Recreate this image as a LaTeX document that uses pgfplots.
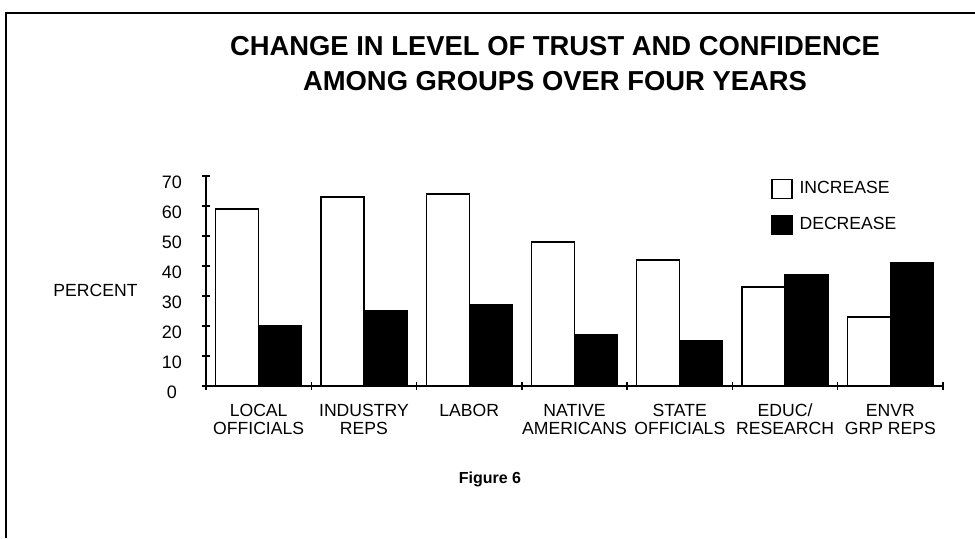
\documentclass[border=0pt]{standalone}
\usepackage{fontspec}
\setmainfont{Liberation Sans}
\usepackage{pgfplots}
\pgfplotsset{compat=1.18}
\begin{document}
\begin{tikzpicture}
\path[use as bounding box] (0,0) rectangle (487.5pt,269pt);
\draw[line width=1pt] (3pt,0) -- (3pt,262.5pt) -- (487.5pt,262.5pt);
\node[font=\fontsize{13.7}{17.5}\selectfont\bfseries, align=center] at (277.5pt,237pt) {CHANGE IN LEVEL OF TRUST AND CONFIDENCE\\AMONG GROUPS OVER FOUR YEARS};
\node[font=\fontsize{8}{9}\selectfont\bfseries] at (245pt,29.5pt) {Figure 6};
\begin{axis}[
  at={(103pt,76pt)}, anchor=south west,
  scale only axis, width=368.5pt, height=105pt,
  xmin=0, xmax=7, ymin=0, ymax=70,
  axis x line*=bottom, axis y line*=left,
  axis line style={-, line width=0.9pt},
  /pgf/number format/assume math mode=true,
  ybar=0pt, bar width=21.5pt,
  xtick={0,...,7}, xticklabels={},
  ytick={0,10,...,70},
  tick align=center, major tick length=4pt,
  tick style={black, line width=0.7pt},
  extra x ticks={0.5,1.5,...,6.5},
  extra x tick labels={{LOCAL\\OFFICIALS},{INDUSTRY\\REPS},{LABOR},{NATIVE\\AMERICANS},{STATE\\OFFICIALS},{EDUC\smash{/}\\RESEARCH},{ENVR\\GRP REPS}},
  extra x tick style={major tick length=0pt},
  xticklabel style={align=center, anchor=north, yshift=-5.5pt, font=\fontsize{8.8}{9.2}\selectfont},
  yticklabel style={anchor=center, xshift=-15pt, yshift=-3pt, font=\fontsize{9}{10}\selectfont},
  ylabel={PERCENT},
  ylabel style={rotate=-90, at={(axis description cs:0,0.457)}, anchor=east, xshift=-34pt, inner sep=0pt, font=\fontsize{8.8}{10}\selectfont},
  legend style={at={(axis description cs:0.7666,0.99)}, anchor=north west, draw=none, fill=none, inner sep=0pt, row sep=8.25pt, column sep=3.5pt, font=\fontsize{8.8}{10}\selectfont, nodes={inner sep=0pt}},
  legend cell align=left,
  legend image code/.code={\draw[#1,/tikz/.cd,yshift=0pt] (0pt,-4.75pt) rectangle (10pt,4.75pt);},
]
\addplot[draw=black, fill=white, line width=0.6pt] coordinates {(0.5,59) (1.5,63) (2.5,64) (3.5,48) (4.5,42) (5.5,33) (6.5,23)};
\addplot[draw=black, fill=black, line width=0.6pt] coordinates {(0.5,20) (1.5,25) (2.5,27) (3.5,17) (4.5,15) (5.5,37) (6.5,41)};
\legend{INCREASE, DECREASE}
\end{axis}
\end{tikzpicture}
\end{document}
